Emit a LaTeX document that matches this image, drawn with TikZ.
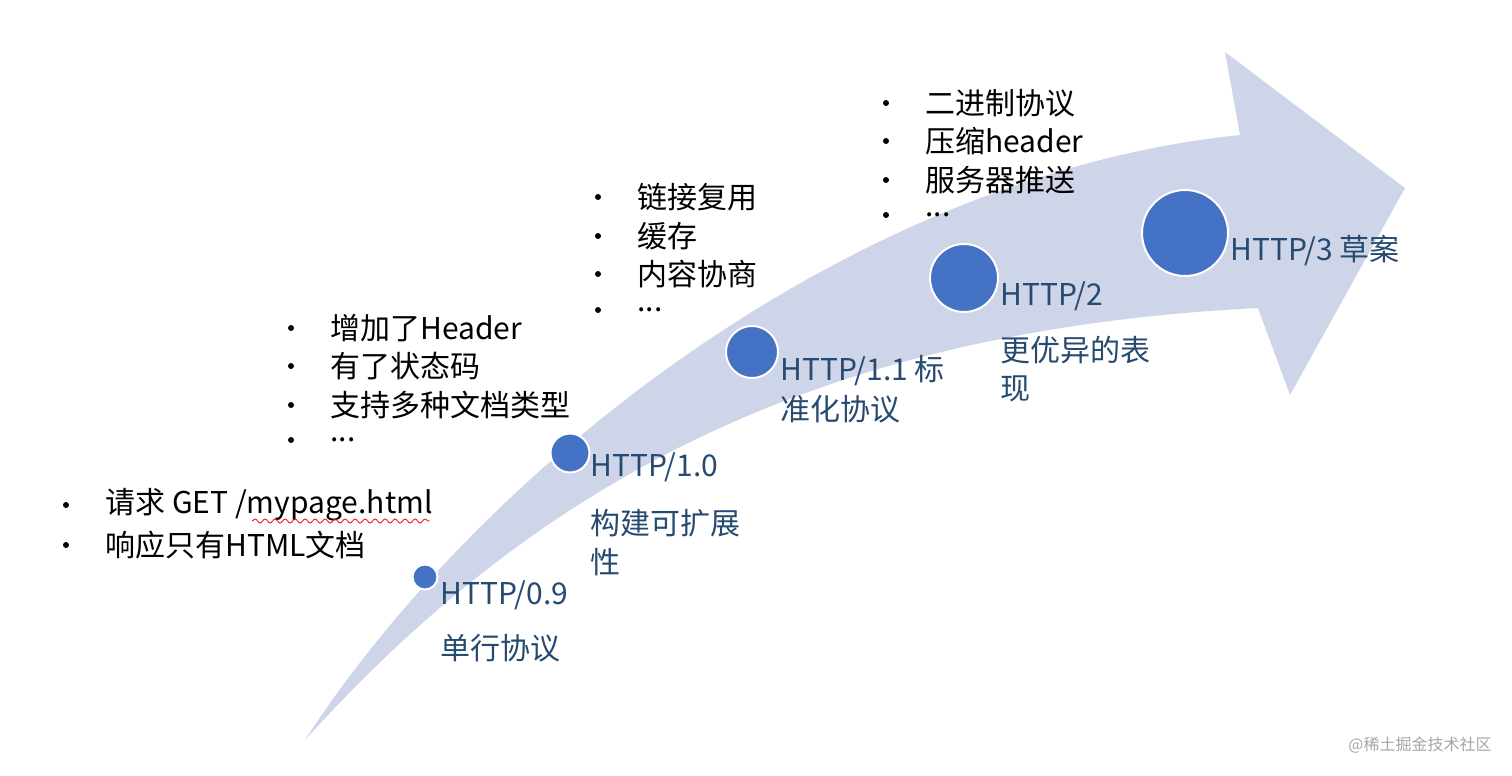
\documentclass[tikz,border=0pt]{standalone}
\usepackage{fontspec}
\setmainfont{Noto Sans CJK SC}
\usetikzlibrary{decorations.pathmorphing}
\definecolor{band}{RGB}{206,213,233}
\definecolor{dot}{RGB}{68,114,196}
\definecolor{lab}{RGB}{38,74,112}
\newcommand{\ddd}{.\kern0pt.\kern0pt.}
\tikzset{
 lbl/.style={anchor=west,text=lab,font=\fontsize{15}{18}\selectfont,inner sep=0},
 itm/.style={anchor=west,text=black,font=\fontsize{15}{18}\selectfont,inner sep=0},
 bul/.style={circle,fill=black,inner sep=0,minimum size=3pt},
 dotc/.style={circle,fill=dot,draw=white,line width=1pt,inner sep=0}
}
\begin{document}
\begin{tikzpicture}[x=0.5pt,y=-0.5pt]
\useasboundingbox (0,0) rectangle (1512,776);
\fill[white] (0,0) rectangle (1512,776);
% arrow band
\fill[band] (305,740) .. controls (480,470) and (850,175) .. (1240,135)
 -- (1225,52) -- (1405,188) -- (1290,395) -- (1258,308)
 .. controls (820,330) and (540,480) .. cycle;
% circles
\node[dotc,minimum size=12.5pt] (c0) at (425,577) {};
\node[dotc,minimum size=19.5pt] (c1) at (570,453) {};
\node[dotc,minimum size=26pt] (c2) at (752,352) {};
\node[dotc,minimum size=34pt] (c3) at (964,278) {};
\node[dotc,minimum size=43pt] (c4) at (1185,233) {};
% labels
\node[lbl] (l0a) at (440,595) {HTTP/0.9};
\node[lbl] (l0b) at (440,648) {单行协议};
\node[lbl] (l1a) at (590,467) {HTTP/1.0};
\node[lbl] (l1b) at (590,523) {构建可扩展};
\node[lbl] (l1c) at (590,562) {性};
\node[lbl] (l2a) at (780,371) {HTTP/1.1 标};
\node[lbl] (l2b) at (780,409) {准化协议};
\node[lbl] (l3a) at (1000,296) {HTTP/2};
\node[lbl] (l3b) at (1000,350) {更优异的表};
\node[lbl] (l3c) at (1000,389) {现};
\node[lbl] (l4a) at (1230,250) {HTTP/3 草案};
% lists
\foreach \y/\t [count=\i] in {505/{请求 GET /mypage.html},545/{响应只有HTML文档}}{
 \node[bul] (b1\i) at (66,\y) {};
 \node[itm] (t1\i) at (105,\y) {\t};}
\draw[red,decorate,decoration={snake,amplitude=1pt,segment length=5pt}] (252,521) -- (430,521);
\foreach \y/\t [count=\i] in {328/{增加了Header},366/{有了状态码},405/{支持多种文档类型},440/{\ddd}}{
 \node[bul] (b2\i) at (291,\y) {};
 \node[itm] (t2\i) at (330,\y) {\t};}
\foreach \y/\t [count=\i] in {197/{链接复用},236/{缓存},274/{内容协商},310/{\ddd}}{
 \node[bul] (b3\i) at (598,\y) {};
 \node[itm] (t3\i) at (637,\y) {\t};}
\foreach \y/\t [count=\i] in {103/{二进制协议},141/{压缩header},180/{服务器推送},215/{\ddd}}{
 \node[bul] (b4\i) at (886,\y) {};
 \node[itm] (t4\i) at (925,\y) {\t};}
\node[anchor=east,text=gray!70,font=\fontsize{8}{10}\selectfont,inner sep=0] (wm) at (1492,745) {@稀土掘金技术社区};
\end{tikzpicture}
\end{document}
